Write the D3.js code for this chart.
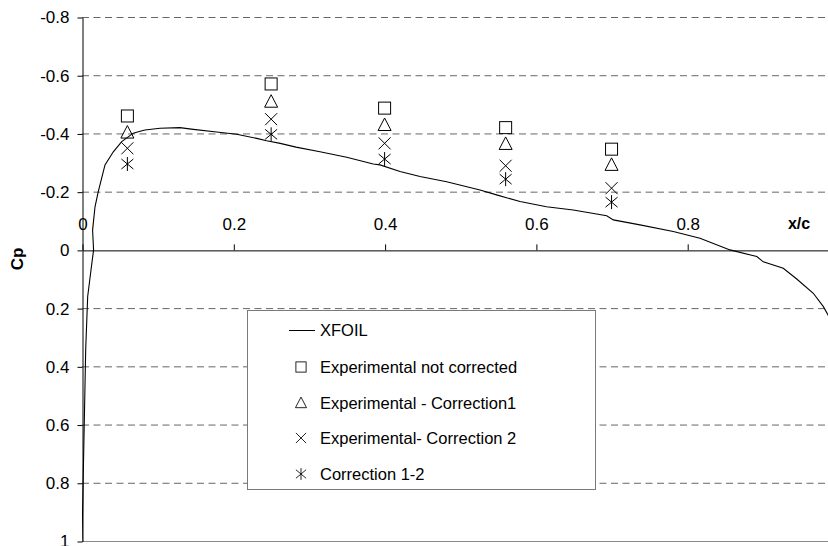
<!DOCTYPE html>
<html>
<head>
<meta charset="utf-8">
<script src="https://cdn.jsdelivr.net/npm/d3@7"></script>
<style>
  html, body { margin: 0; padding: 0; background: #fff; }
  svg { display: block; font-family: "Liberation Sans", Arial, sans-serif; }
</style>
</head>
<body>
<svg id="chart" width="828" height="546"></svg>
<script>
// XFOIL pressure distribution (x/c, Cp)
const xfoilX = [0, 0.0022, 0.0049, 0.0075, 0.0119, 0.0153, 0.014, 0.0172, 0.0215, 0.0304, 0.0414, 0.0525, 0.0678,
  0.0744, 0.0833, 0.1031, 0.1295, 0.1471, 0.178, 0.2045, 0.231, 0.244, 0.262, 0.2829, 0.3146, 0.3499, 0.385,
  0.3939, 0.4204, 0.4468, 0.482, 0.5261, 0.548, 0.579, 0.614, 0.6494, 0.6936, 0.7023, 0.7376, 0.7816, 0.8169,
  0.8566, 0.892, 0.9006, 0.927, 0.9448, 0.9667, 0.980, 0.9862, 0.995];
const xfoilCp = [1.0, 0.70, 0.34, 0.16, 0.069, 0.0, -0.068, -0.148, -0.2, -0.292, -0.337, -0.372, -0.401,
  -0.406, -0.412, -0.418, -0.420, -0.414, -0.405, -0.397, -0.383, -0.375, -0.366, -0.353, -0.337, -0.318, -0.295,
  -0.292, -0.269, -0.252, -0.234, -0.206, -0.189, -0.166, -0.148, -0.137, -0.117, -0.103, -0.086, -0.063, -0.040,
  0.0, 0.023, 0.041, 0.063, 0.100, 0.149, 0.195, 0.224, 0.27];

// Pressure tap locations and measured Cp
const tapX = [0.06, 0.25, 0.40, 0.56, 0.70];
const cpNotCorrected = [-0.46, -0.57, -0.487, -0.42, -0.346];
const cpCorrection1 = [-0.403, -0.509, -0.429, -0.364, -0.292];
const cpCorrection2 = [-0.349, -0.449, -0.366, -0.289, -0.212];
const cpCorrection12 = [-0.295, -0.397, -0.312, -0.243, -0.164];

const xTicks = [0, 0.2, 0.4, 0.6, 0.8];
const yTicks = [-0.8, -0.6, -0.4, -0.2, 0, 0.2, 0.4, 0.6, 0.8, 1];

const legendLabels = ["XFOIL", "Experimental not corrected", "Experimental - Correction1",
  "Experimental- Correction 2", "Correction 1-2"];

const svg = d3.select("#chart");
const W = 828, H = 546;
const x = d3.scaleLinear().domain([0, 1]).range([82, 838.5]);
const y = d3.scaleLinear().domain([-0.8, 1]).range([17, 541]);
const fmt = v => String(+v.toFixed(1));

svg.append("defs").append("clipPath").attr("id", "plot")
  .append("rect").attr("x", x(0)).attr("y", y(-0.8) - 1).attr("width", W - x(0)).attr("height", y(1) - y(-0.8) + 2);

// horizontal grid
svg.append("g").selectAll("line")
  .data(yTicks.filter(v => v !== 0 && v !== 1))
  .join("line")
  .attr("x1", x(0)).attr("x2", W)
  .attr("y1", d => y(d) + 0.5).attr("y2", d => y(d) + 0.5)
  .attr("stroke", "#666").attr("stroke-width", 1).attr("stroke-dasharray", "7,4.5");
// bottom border of plot area
svg.append("line").attr("x1", x(0)).attr("x2", W).attr("y1", y(1) + 0.5).attr("y2", y(1) + 0.5)
  .attr("stroke", "#8a8a8a");

// y axis
const yAxis = svg.append("g").attr("transform", `translate(${x(0) + 0.5},0.5)`)
  .call(d3.axisLeft(y).tickValues(yTicks).tickFormat(fmt).tickSize(5).tickSizeOuter(0).tickPadding(8));
yAxis.select(".domain").attr("stroke", "#000");
yAxis.selectAll("text").attr("font-size", 17).attr("fill", "#000");

// x axis crossing at Cp = 0
const xAxis = svg.append("g").attr("transform", `translate(0.5,${y(0) + 0.5})`)
  .call(d3.axisTop(x).tickValues(xTicks).tickFormat(fmt).tickSize(6).tickSizeOuter(0).tickPadding(14));
xAxis.select(".domain").attr("stroke", "#000");
xAxis.selectAll("text").attr("font-size", 17).attr("fill", "#000");

// axis titles
svg.append("text").attr("x", 799).attr("y", 229).attr("text-anchor", "middle")
  .attr("font-size", 16).attr("font-weight", "bold").text("x/c");
svg.append("text").attr("transform", "translate(23,259) rotate(-90)").attr("text-anchor", "middle")
  .attr("font-size", 17).attr("font-weight", "bold").text("Cp");

// XFOIL curve
const line = d3.line().x(d => x(d[0])).y(d => y(d[1]));
svg.append("path").attr("clip-path", "url(#plot)")
  .datum(d3.zip(xfoilX, xfoilCp))
  .attr("d", line).attr("fill", "none").attr("stroke", "#000").attr("stroke-width", 1.1);

// marker shapes
const S = 6;
const markers = {
  square: g => g.append("rect").attr("x", -S).attr("y", -S).attr("width", 2 * S).attr("height", 2 * S),
  triangle: g => g.append("path").attr("d", `M0,${-S - 1}L${S + 0.5},${S - 0.5}L${-S - 0.5},${S - 0.5}Z`),
  cross: g => g.append("path").attr("d", `M${-S},${-S}L${S},${S}M${S},${-S}L${-S},${S}`),
  star: g => g.append("path").attr("d", `M${-S},${-S + 1}L${S},${S - 1}M${S},${-S + 1}L${-S},${S - 1}M0,${-S - 1}L0,${S + 1}`)
};
function drawMarker(sel, kind) {
  sel.each(function () {
    markers[kind](d3.select(this));
  });
  sel.selectAll("rect,path").attr("fill", "none").attr("stroke", "#000").attr("stroke-width", 1);
}

const series = [
  [cpNotCorrected, "square"],
  [cpCorrection1, "triangle"],
  [cpCorrection2, "cross"],
  [cpCorrection12, "star"]
];
series.forEach(([vals, kind]) => {
  const g = svg.append("g").selectAll("g")
    .data(d3.zip(tapX, vals))
    .join("g")
    .attr("transform", d => `translate(${x(d[0])},${y(d[1])})`);
  drawMarker(g, kind);
});

// legend
const leg = svg.append("g");
leg.append("rect").attr("x", 247.5).attr("y", 310.5).attr("width", 348).attr("height", 179)
  .attr("fill", "#fff").attr("stroke", "#7a7a7a").attr("stroke-width", 1);
const rowY = [330, 367, 403, 438, 474];
leg.append("line").attr("x1", 289).attr("x2", 315).attr("y1", rowY[0] + 0.5).attr("y2", rowY[0] + 0.5)
  .attr("stroke", "#000");
series.forEach(([, kind], i) => {
  const g = leg.append("g").attr("transform", `translate(301,${rowY[i + 1]}) scale(0.85)`);
  drawMarker(g, kind);
});
leg.selectAll("text.lbl").data(legendLabels).join("text").attr("class", "lbl")
  .attr("x", 320).attr("y", (d, i) => rowY[i] + 6)
  .attr("font-size", 16.5).text(d => d);
</script>
</body>
</html>
